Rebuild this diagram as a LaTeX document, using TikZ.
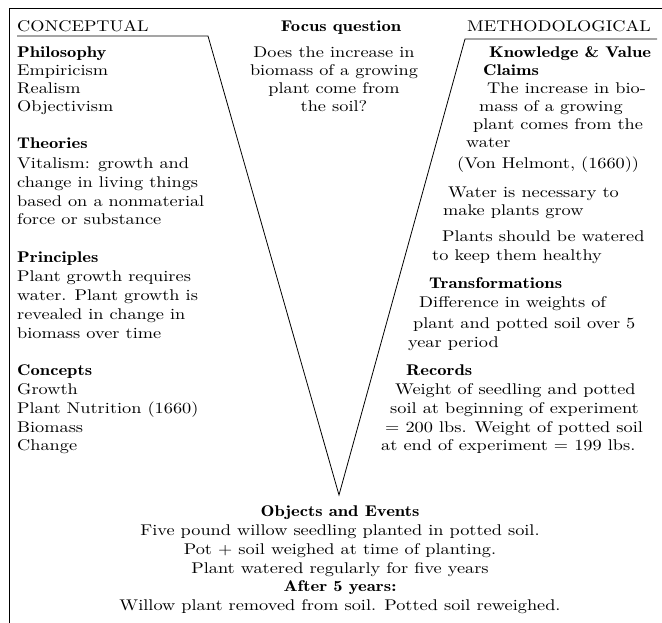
\documentclass[tikz,border=0pt]{standalone}
\usepackage{fontspec}
\setmainfont{lmroman10-regular.otf}[BoldFont=lmromandemi10-regular.otf, FakeStretch=1.18]
\newfontfamily\hdfont{lmromandemi10-regular.otf}[FakeStretch=1.20]
\begin{document}
\begin{tikzpicture}[x=1pt,y=-1pt]
\tikzset{
  txt/.style={anchor=base west, inner sep=0pt, font=\fontsize{15.5}{18.67}\selectfont},
  hd/.style={anchor=base west, inner sep=0pt, font=\fontsize{15.5}{18.67}\selectfont\hdfont},
  ctxt/.style={txt, anchor=base},
  chd/.style={hd, anchor=base},
  rule/.style={line width=0.8pt, black}
}
\useasboundingbox (0,0) rectangle (662,623);
% frame
\coordinate (fb) at (9,623);
\coordinate (ftl) at (9,8);
\coordinate (ftr) at (662,8);
\draw[rule] (fb) -- (ftl) -- (ftr);
% V
\coordinate (ul) at (17,36);
\coordinate (vl) at (208,36);
\coordinate (apex) at (339,495);
\coordinate (vr) at (465,39);
\coordinate (ur) at (657,39);
\draw[rule, line join=miter] (ul) -- (vl) -- (apex) -- (vr) -- (ur);

% headings
\node[txt] (conc) at (17,32) {CONCEPTUAL};
\node[txt] (meth) at (467,32) {METHODOLOGICAL};
\node[chd] (fq) at (341,32) {Focus question};
\node[ctxt] (q1) at (334,58) {Does the increase in};
\node[ctxt] (q2) at (334,76) {biomass of a growing};
\node[ctxt] (q3) at (334,94) {plant come from};
\node[ctxt] (q4) at (334,112) {the soil?};

% left column
\node[hd]  (l1) at (17,58) {Philosophy};
\node[txt] (l2) at (17,76) {Empiricism};
\node[txt] (l3) at (17,94) {Realism};
\node[txt] (l4) at (17,112) {Objectivism};
\node[hd]  (l5) at (17,149) {Theories};
\node[txt] (l6) at (17,169) {Vitalism: growth and};
\node[txt] (l7) at (17,188) {change in living things};
\node[txt] (l8) at (17,207) {based on a nonmaterial};
\node[txt] (l9) at (17,225) {force or substance};
\node[hd]  (l10) at (17,262) {Principles};
\node[txt] (l11) at (17,281) {Plant growth requires};
\node[txt] (l12) at (17,300) {water. Plant growth is};
\node[txt] (l13) at (17,319) {revealed in change in};
\node[txt] (l14) at (17,338) {biomass over time};
\node[hd]  (l15) at (17,375) {Concepts};
\node[txt] (l16) at (17,394) {Growth};
\node[txt] (l17) at (17,413) {Plant Nutrition (1660)};
\node[txt] (l18) at (17,432) {Biomass};
\node[txt] (l19) at (17,450) {Change};

% right column
\node[hd]  (r1) at (489,58) {Knowledge \& Value};
\node[hd]  (r2) at (483,76) {Claims};
\node[txt] (r3) at (487,94) {The increase in bio-};
\node[txt] (r4) at (479,112) {mass of a growing};
\node[txt] (r5) at (473,130) {plant comes from the};
\node[txt] (r6) at (466,148) {water};
\node[txt] (r7) at (457,169) {(Von Helmont, (1660))};
\node[txt] (r8) at (448,197) {Water is necessary to};
\node[txt] (r9) at (443,215) {make plants grow};
\node[txt] (r10) at (442,242) {Plants should be watered};
\node[txt] (r11) at (432,260) {to keep them healthy};
\node[hd]  (r12) at (429,288) {Transformations};
\node[txt] (r13) at (419,307) {Difference in weights of};
\node[txt] (r14) at (413,328) {plant and potted soil over 5};
\node[txt] (r15) at (408,347) {year period};
\node[hd]  (r16) at (406,375) {Records};
\node[txt] (r17) at (395,394) {Weight of seedling and potted};
\node[txt] (r18) at (390,413) {soil at beginning of experiment};
\node[txt] (r19) at (385,432) {= 200 lbs. Weight of potted soil};
\node[txt] (r20) at (381,450) {at end of experiment = 199 lbs.};

% bottom
\node[chd]  (b1) at (340,516) {Objects and Events};
\node[ctxt] (b2) at (340,535) {Five pound willow seedling planted in potted soil.};
\node[ctxt] (b3) at (340,554) {Pot + soil weighed at time of planting.};
\node[ctxt] (b4) at (340,573) {Plant watered regularly for five years};
\node[chd]  (b5) at (340,591) {After 5 years:};
\node[ctxt] (b6) at (340,610) {Willow plant removed from soil. Potted soil reweighed.};
\end{tikzpicture}
\end{document}
